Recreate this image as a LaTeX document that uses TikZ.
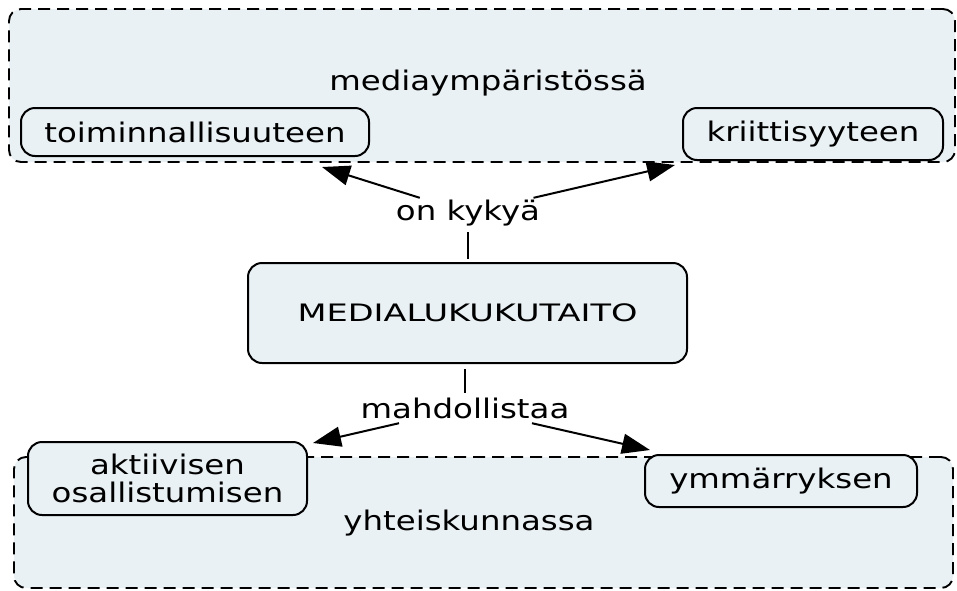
\documentclass[tikz,border=0pt]{standalone}
\usepackage{fontspec}
\setmainfont{DejaVu Sans}[FakeStretch=1.2]
\newfontfamily\widecaps{DejaVu Sans}[FakeStretch=1.4]
\usetikzlibrary{arrows.meta}
\definecolor{boxfill}{RGB}{233,241,244}
\begin{document}
\begin{tikzpicture}[x=1pt,y=-1pt,
  every node/.style={font=\fontsize{27}{27}\selectfont},
  container/.style={draw, dash pattern=on 12pt off 7pt, line width=1.9pt, fill=boxfill, rounded corners=12pt, inner sep=0pt},
  concept/.style={draw, line width=2pt, fill=boxfill, rounded corners=14pt, inner sep=0pt, align=center},
  linklabel/.style={inner sep=0pt, minimum height=30pt, minimum width=150pt},
  link/.style={line width=2pt},
  arr/.style={line width=2pt, -{Triangle[length=28pt,width=20pt]}}
]
\useasboundingbox (0,0) rectangle (957,590);
% containers
\node[container, minimum width=946pt, minimum height=153pt] (env) at (482,85.5) {};
\node (envtext) at (488,83) {mediaympäristössä};
\node[container, minimum width=939pt, minimum height=131pt] (soc) at (483.5,522.5) {};
\node (soctext) at (469,523) {yhteiskunnassa};
% concepts
\node[concept, minimum width=348pt, minimum height=48pt] (toim) at (195,132) {toiminnallisuuteen};
\node[concept, minimum width=260pt, minimum height=52pt] (krit) at (813,134) {kriittisyyteen};
\node[concept, minimum width=439pt, minimum height=100pt, font=\widecaps\fontsize{24}{24}\selectfont] (med) at (467.5,313) {MEDIALUKUKUTAITO};
\node[concept, minimum width=279pt, minimum height=73pt, font=\fontsize{27}{28}\selectfont] (akt) at (167.5,478.5) {aktiivisen\\osallistumisen};
\node[concept, minimum width=272pt, minimum height=52pt] (ymm) at (781,481) {ymmärryksen};
% link labels
\node[linklabel] (onk) at (468,213) {on kykyä};
\node[linklabel] (mah) at (465,408) {mahdollistaa};
% arrow ends
\coordinate (t1) at (322,167);
\coordinate (t2) at (675,165);
\coordinate (t3) at (313,443);
\coordinate (t4) at (650,450);
% connectors
\draw[link, shorten <=3pt, shorten >=4pt] (med.north -| onk) -- (onk.south);
\draw[arr] (onk) -- (t1);
\draw[arr] (onk) -- (t2);
\draw[link, shorten <=5pt] (med.south -| mah) -- (mah.north);
\draw[arr] (mah) -- (t3);
\draw[arr] (mah) -- (t4);
\end{tikzpicture}
\end{document}
